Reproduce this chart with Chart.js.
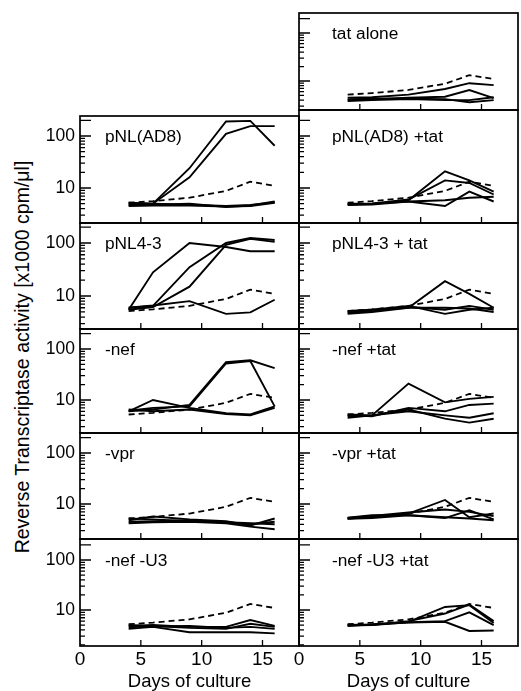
<!DOCTYPE html>
<html><head><meta charset="utf-8">
<script src="https://cdn.jsdelivr.net/npm/chart.js@4.4.1/dist/chart.umd.min.js"></script>
<style>
html,body{margin:0;padding:0;background:#fff;}
body{width:521px;height:691px;position:relative;overflow:hidden;font-family:"Liberation Sans",Arial,sans-serif;}
canvas{position:absolute;}
#ytitle{position:absolute;left:22px;top:357px;transform:translate(-50%,-50%) rotate(-90deg);white-space:nowrap;font-size:19.5px;color:#000;}
</style></head><body>
<div id="ytitle">Reverse Transcriptase activity [x1000 cpm/μl]</div>
<script>
// ---------- data ----------
const days = [4, 6, 9, 12, 14, 16];
const controlDashed = [5.2, 5.6, 6.5, 8.8, 13.2, 11];
const xTickValues = [0, 5, 10, 15];
const yLabelValues = [10, 100];

const tatAlone = [
  [4.5, 4.6, 5.2, 6.8, 9.0, 8.2],
  [4.0, 4.2, 4.5, 4.7, 6.5, 4.4],
  [4.2, 4.3, 4.3, 4.2, 3.6, 4.0],
  [3.8, 4.0, 4.2, 4.0, 4.0, 4.6]
];
const pNLAD8 = [
  [5.1, 5.0, 24, 190, 195, 65],
  [4.8, 5.0, 16, 110, 155, 155],
  [4.7, 4.8, 5.0, 4.3, 4.6, 5.5],
  [4.5, 4.6, 4.6, 4.4, 4.5, 5.2],
  [5.2, 5.0, 4.8, 4.5, 4.7, 5.3]
];
const pNLAD8tat = [
  [4.8, 5.0, 5.8, 21, 14, 8.5],
  [4.9, 5.0, 6.0, 14, 12.5, 7.5],
  [4.7, 4.8, 5.5, 4.5, 8.5, 5.5],
  [5.0, 5.0, 5.5, 5.8, 6.5, 6.8]
];
const pNL43 = [
  [5.5, 28, 100, 84, 70, 70],
  [6.0, 6.5, 35, 100, 124, 114],
  [5.5, 6.2, 15, 92, 120, 105],
  [6.0, 6.6, 8.0, 4.6, 4.9, 8.5]
];
const pNL43tat = [
  [5.0, 5.5, 6.0, 19, 11, 6.0],
  [4.8, 5.2, 6.2, 5.5, 6.5, 5.5],
  [5.2, 5.5, 6.5, 4.6, 5.5, 6.0],
  [4.6, 5.0, 6.0, 6.0, 5.8, 5.0]
];
const nef = [
  [6.0, 6.5, 8.0, 55, 60, 42],
  [6.2, 7.0, 7.5, 52, 58, 7.5],
  [6.0, 10, 7.0, 5.5, 5.2, 7.5],
  [6.5, 6.0, 6.5, 5.3, 5.0, 7.0]
];
const nefTat = [
  [4.5, 5.0, 21, 9.0, 10.5, 11.5],
  [5.0, 4.8, 7.0, 6.0, 8.0, 8.5],
  [4.8, 5.0, 6.5, 4.3, 3.6, 4.3],
  [5.2, 5.0, 6.0, 5.0, 4.5, 5.5]
];
const vpr = [
  [4.8, 5.7, 5.0, 4.6, 3.8, 5.2],
  [4.5, 4.6, 4.8, 4.4, 4.0, 4.5],
  [4.2, 4.4, 4.5, 4.2, 3.6, 3.2],
  [5.2, 5.0, 4.6, 4.4, 4.2, 4.0]
];
const vprTat = [
  [5.2, 5.5, 6.5, 12, 5.5, 6.5],
  [5.3, 5.8, 6.8, 7.8, 7.0, 5.8],
  [5.1, 5.3, 6.0, 5.3, 7.5, 5.0],
  [5.4, 6.0, 6.0, 5.5, 5.2, 4.8]
];
const nefU3 = [
  [4.8, 5.0, 4.6, 4.6, 6.3, 4.8],
  [4.5, 4.8, 4.4, 4.2, 5.3, 4.6],
  [4.2, 4.6, 3.6, 3.6, 3.6, 3.4],
  [5.0, 4.7, 4.8, 4.4, 4.6, 4.2]
];
const nefU3Tat = [
  [5.0, 5.1, 5.8, 11.5, 12.5, 5.5],
  [4.9, 5.0, 6.0, 8.5, 12.8, 6.0],
  [5.1, 5.0, 5.7, 6.0, 9.0, 5.0],
  [4.8, 5.2, 5.6, 5.8, 3.8, 3.9]
];

const panels = [
  {name: 'tat alone',        col: 1, row: 0, series: tatAlone},
  {name: 'pNL(AD8)',         col: 0, row: 1, series: pNLAD8},
  {name: 'pNL(AD8) +tat',    col: 1, row: 1, series: pNLAD8tat},
  {name: 'pNL4-3',           col: 0, row: 2, series: pNL43},
  {name: 'pNL4-3 + tat',     col: 1, row: 2, series: pNL43tat},
  {name: '-nef',             col: 0, row: 3, series: nef},
  {name: '-nef +tat',        col: 1, row: 3, series: nefTat},
  {name: '-vpr',             col: 0, row: 4, series: vpr},
  {name: '-vpr +tat',        col: 1, row: 4, series: vprTat},
  {name: '-nef -U3',         col: 0, row: 5, series: nefU3},
  {name: '-nef -U3 +tat',    col: 1, row: 5, series: nefU3Tat}
];

// ---------- layout (pixels) ----------
const FONT = '"Liberation Sans", Arial, sans-serif';
const colBox = [{left: 80, right: 299, labelOff: 25}, {left: 299, right: 518, labelOff: 33}];
const rowBox = [
  {top: [13, 13],   bottom: 110, y100: 33,  y10: 81},
  {top: [116, 110], bottom: 223, y100: 136, y10: 188},
  {top: [223, 223], bottom: 329, y100: 243, y10: 296},
  {top: [329, 329], bottom: 433, y100: 349, y10: 400},
  {top: [433, 433], bottom: 539, y100: 453, y10: 504},
  {top: [539, 539], bottom: 646, y100: 560, y10: 610}
];
const minorTicks = [2,3,4,5,6,7,8,9,20,30,40,50,60,70,80,90];
const majorTicks = [10, 100, 200];
const xInnerTicks = [5, 10, 15];

const framePlugin = {
  id: 'frame',
  afterDraw(chart) {
    const {ctx, chartArea: a, scales: {x, y}} = chart;
    const p = chart.options.plugins.frame;
    ctx.save();
    ctx.strokeStyle = '#000';
    ctx.lineWidth = 1.7;
    ctx.strokeRect(a.left, a.top, a.right - a.left, a.bottom - a.top);
    ctx.lineWidth = 1.3;
    ctx.beginPath();
    minorTicks.forEach(v => {
      if (v <= y.min || v >= y.max) return;
      const py = y.getPixelForValue(v);
      ctx.moveTo(a.left, py); ctx.lineTo(a.left + 5, py);
    });
    majorTicks.forEach(v => {
      if (v <= y.min || v >= y.max) return;
      const py = y.getPixelForValue(v);
      ctx.moveTo(a.left, py); ctx.lineTo(a.left + 11, py);
    });
    xInnerTicks.forEach(v => {
      const px = x.getPixelForValue(v);
      ctx.moveTo(px, a.bottom); ctx.lineTo(px, a.bottom - 6);
    });
    ctx.stroke();
    ctx.fillStyle = '#000';
    ctx.font = '17.3px ' + FONT;
    ctx.textBaseline = 'middle';
    ctx.textAlign = 'left';
    ctx.fillText(p.label, a.left + p.labelOff, y.getPixelForValue(100) + 1);
    ctx.restore();
  }
};

panels.forEach(p => {
  const cb = colBox[p.col];
  const rb = rowBox[p.row];
  const top = rb.top[p.col];
  const L = p.col === 0 ? 50 : 12, R = 4, T = 16;
  const B = p.row === 5 ? 45 : 16;
  const plotW = cb.right - cb.left, plotH = rb.bottom - top;
  const decade = rb.y10 - rb.y100;
  const yMax = Math.pow(10, 2 + (rb.y100 - top) / decade);
  const yMin = Math.pow(10, 1 - (rb.bottom - rb.y10) / decade);

  const cv = document.createElement('canvas');
  cv.width = L + plotW + R; cv.height = T + plotH + B;
  cv.style.left = (cb.left - L) + 'px';
  cv.style.top = (top - T) + 'px';
  document.body.appendChild(cv);

  const datasets = p.series.map((s, i) => ({
    label: p.name + ' ' + (i + 1),
    data: days.map((d, j) => ({x: d, y: s[j]})),
    borderColor: '#000', borderWidth: 1.9, pointRadius: 0, fill: false, tension: 0
  }));
  datasets.push({
    label: p.name + ' control',
    data: days.map((d, j) => ({x: d, y: controlDashed[j]})),
    borderColor: '#000', borderWidth: 1.8, borderDash: [6, 4], pointRadius: 0, fill: false, tension: 0
  });

  new Chart(cv, {
    type: 'line',
    data: {datasets},
    options: {
      responsive: false, animation: false, devicePixelRatio: 1,
      layout: {padding: {left: 0, right: R, top: T, bottom: 0}},
      plugins: {
        legend: {display: false}, tooltip: {enabled: false},
        frame: {label: p.name, labelOff: cb.labelOff}
      },
      scales: {
        x: {
          type: 'linear', min: 0, max: 18, bounds: 'data',
          grid: {display: false, drawTicks: false}, border: {display: false},
          afterBuildTicks: s => { s.ticks = xTickValues.map(v => ({value: v})); },
          ticks: {display: p.row === 5, color: '#000', padding: 2, maxRotation: 0, autoSkip: false,
                  font: {family: FONT, size: 19}, callback: v => String(v)},
          title: {display: p.row === 5, text: 'Days of culture', color: '#000',
                  font: {family: FONT, size: 18.5, lineHeight: 1}, padding: 0},
          afterFit: s => { s.height = B; }
        },
        y: {
          type: 'logarithmic', min: yMin, max: yMax, bounds: 'data',
          grid: {display: false, drawTicks: false}, border: {display: false},
          afterBuildTicks: s => { s.ticks = yLabelValues.map(v => ({value: v})); },
          ticks: {display: p.col === 0, color: '#000', padding: 5,
                  font: {family: FONT, size: 17.5}, callback: v => String(v)},
          afterFit: s => { s.width = L; }
        }
      }
    },
    plugins: [framePlugin]
  });
});
</script>
</body></html>
